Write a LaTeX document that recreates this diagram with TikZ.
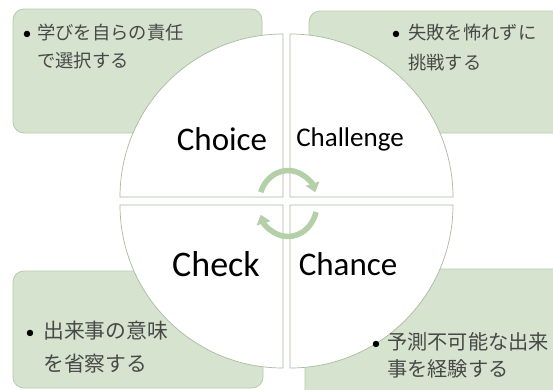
\documentclass[tikz,border=0pt]{standalone}
\usepackage{fontspec}
\setmainfont{Carlito}
\newfontfamily\jpfont{Noto Sans CJK JP}
\usetikzlibrary{arrows.meta}
\definecolor{boxfill}{HTML}{D6E4CF}
\definecolor{boxline}{HTML}{B7CAAC}
\definecolor{quadline}{HTML}{A9BA9F}
\definecolor{arrowgreen}{HTML}{B5CFA8}
\definecolor{jptext}{HTML}{484848}
\begin{document}
\begin{tikzpicture}[x=1pt,y=1pt,
  greenbox/.style={fill=boxfill,draw=boxline,line width=0.8pt,rounded corners=11pt},
  quad/.style={fill=white,draw=quadline,line width=0.7pt},
  cyclearrow/.style={draw=arrowgreen,line width=5.5pt,-{Triangle[width=14pt,length=9pt]}},
  jpsmall/.style={anchor=base west,inner sep=0pt,text=jptext,font=\jpfont\fontsize{18.3}{22}\selectfont},
  jplarge/.style={anchor=base west,inner sep=0pt,text=jptext,font=\jpfont\fontsize{20.8}{25}\selectfont},
  bulletmark/.style={anchor=base,inner sep=0pt,text=black,font=\fontsize{18}{22}\selectfont},
  label/.style={anchor=base,inner sep=0pt,text=black}
]
\useasboundingbox (0,0) rectangle (553,-389);
\clip (0,0) rectangle (553,-389);
\fill[white] (0,0) rectangle (553,-389);

% green text boxes
\path[greenbox] (13,-9) rectangle (262,-133);
\path[greenbox] (309,-11) rectangle (575,-133);
\path[greenbox] (13,-271) rectangle (263,-388);
\path[greenbox] (305,-269) rectangle (575,-410);

% quadrants
\path[quad] (283,-197) -- (120,-197) arc[start angle=180,end angle=90,radius=163] -- cycle;
\path[quad] (290,-197) -- (290,-34) arc[start angle=90,end angle=0,radius=163] -- cycle;
\path[quad] (283,-205) -- (120,-205) arc[start angle=180,end angle=270,radius=163] -- cycle;
\path[quad] (290,-205) -- (453,-205) arc[start angle=0,end angle=-90,radius=163] -- cycle;

% cycle arrows
\coordinate (cyc) at (288,-203.5);
\draw[cyclearrow] (cyc) ++(160:29 and 33) arc[start angle=160,end angle=20,x radius=29,y radius=33];
\draw[cyclearrow] (cyc) ++(-15:29 and 33) arc[start angle=-15,end angle=-160,x radius=29,y radius=33];

% quadrant labels
\node[label,font=\fontsize{33}{40}\selectfont] (choice) at (222,-150) {Choice};
\node[label,font=\fontsize{27}{32}\selectfont] (challenge) at (350,-146) {Challenge};
\node[label,font=\fontsize{36}{42}\selectfont] (check) at (216,-276) {Check};
\node[label,font=\fontsize{33}{40}\selectfont] (chance) at (348,-275) {Chance};

% box texts
\node[bulletmark] (b1) at (27,-39) {•};
\node[jpsmall] (t1a) at (37,-39) {学びを自らの責任};
\node[jpsmall] (t1b) at (37,-67) {で選択する};

\node[bulletmark] (b2) at (396,-39) {•};
\node[jpsmall] (t2a) at (408,-39) {失敗を怖れずに};
\node[jpsmall] (t2b) at (408,-69) {挑戦する};

\node[bulletmark] (b3) at (30,-338) {•};
\node[jplarge] (t3a) at (43,-338) {出来事の意味};
\node[jplarge] (t3b) at (43,-371) {を省察する};

\node[bulletmark] (b4) at (376,-349) {•};
\node[jplarge,font=\jpfont\fontsize{20.2}{25}\selectfont] (t4a) at (387,-349) {予測不可能な出来};
\node[jplarge,font=\jpfont\fontsize{20.2}{25}\selectfont] (t4b) at (387,-376) {事を経験する};
\end{tikzpicture}
\end{document}
